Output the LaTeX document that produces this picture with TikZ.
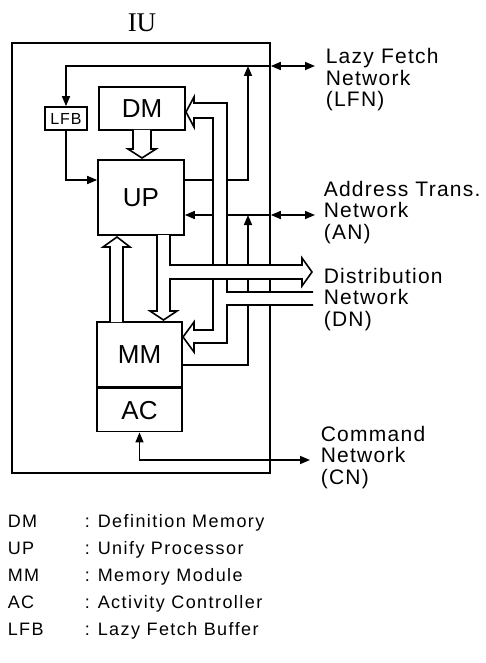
\documentclass[tikz,border=0pt]{standalone}
\usepackage{fontspec}
\setmainfont{Liberation Sans}
\newfontfamily\iufont{Liberation Serif}
\usetikzlibrary{arrows.meta}

\begin{document}
\begin{tikzpicture}[x=1pt,y=-1pt,line width=1.6pt,
    bloco/.style={draw,rectangle,inner sep=0pt,font=\fontsize{26}{26}\selectfont},
    seta/.style={-{Triangle[length=10pt,width=8pt]}},
    setadupla/.style={{Triangle[length=10pt,width=8pt]}-{Triangle[length=10pt,width=8pt]}},
    oca/.style={fill=white,line join=miter},
    rotulo/.style={anchor=base west,inner sep=0pt,align=left,
      font={\fontsize{21}{21.5}\selectfont\addfontfeature{LetterSpace=6}}},
    legenda/.style={anchor=base west,inner sep=0pt,
      font={\fontsize{18}{18}\selectfont\addfontfeature{LetterSpace=8}}}]
    \useasboundingbox (0,0) rectangle (486,663);
    % Caixa da IU
    \node[draw,minimum width=258pt,minimum height=430pt] (IU) at (141,258) {};
    \node[font=\fontsize{27}{27}\iufont] (titulo) at (142,23) {IU};
    % Blocos internos
    \node[bloco,minimum width=86pt,minimum height=43pt] (DM) at (142,108.5) {DM};
    \node[bloco,minimum width=86pt,minimum height=75pt] (UP) at (141,197.5) {UP};
    \node[bloco,minimum width=85pt,minimum height=65pt] (MM) at (139.5,354.5) {MM};
    \node[bloco,minimum width=85pt,minimum height=43pt,anchor=north] (AC) at (MM.south) {AC};
    \node[bloco,minimum width=42pt,minimum height=23pt,
      font={\fontsize{16}{16}\selectfont\addfontfeature{LetterSpace=6}}] (LFB) at (66,118.5) {LFB};
    % Pontas das redes
    \coordinate (lfn) at (315,66);
    \coordinate (an) at (315,215);
    \coordinate (cn) at (310,460);
    \coordinate (colA) at (248,0);
    % Lazy Fetch Network
    \draw[setadupla] (IU.east |- lfn) -- (lfn);
    \draw[seta] (IU.east |- lfn) -| (LFB.north);
    \draw[seta] (LFB.south) |- (UP.west |- 0,180);
    \draw[seta] (UP.east |- 0,180) -| (colA |- lfn);
    % Address Trans. Network
    \draw[setadupla] (IU.east |- an) -- (an);
    \draw[seta] (IU.east |- an) -- (UP.east |- an);
    \draw[seta] (MM.east |- 0,365) -| (colA |- an);
    % Command Network
    \draw[setadupla] (AC.south) |- (cn);
    % Setas largas
    \filldraw[oca] (133,130) -- (133,149) -- (128,149) -- (142,158) -- (156,149) -- (151,149) -- (151,130);
    \filldraw[oca] (110,322) -- (110,247) -- (103,247) -- (117,237) -- (130,247) -- (123,247) -- (123,322);
    \filldraw[oca] (313,305) -- (227,305) -- (227,343) -- (194,343) -- (194,352) -- (183,337)
      -- (194,322) -- (194,330) -- (213,330) -- (213,118) -- (194,118) -- (194,127) -- (186,112)
      -- (194,97) -- (194,103) -- (227,103) -- (227,292) -- (313,292);
    \filldraw[oca] (157,235) -- (157,311) -- (150,311) -- (163.5,320) -- (177,311) -- (170,311)
      -- (170,279) -- (302,279) -- (302,286) -- (312,272) -- (302,258) -- (302,265) -- (170,265) -- (170,235);
    % Nomes das redes
    \node[rotulo] (tLFN) at (325,107) {Lazy Fetch\\Network\\(LFN)};
    \node[rotulo] (tAN) at (323,239) {Address Trans.\\Network\\(AN)};
    \node[rotulo] (tDN) at (323,326) {Distribution\\Network\\(DN)};
    \node[rotulo] (tCN) at (320,484) {Command\\Network\\(CN)};
    % Legenda
    \foreach \sig/\nome [count=\i] in {DM/Definition Memory, UP/Unify Processor,
        MM/Memory Module, AC/Activity Controller, LFB/Lazy Fetch Buffer} {
      \node[legenda] (sig\i) at (7,500+27*\i) {\sig};
      \node[legenda] (dp\i) at (84,500+27*\i) {:};
      \node[legenda] (nome\i) at (97,500+27*\i) {\nome};
    }
\end{tikzpicture}
\end{document}
